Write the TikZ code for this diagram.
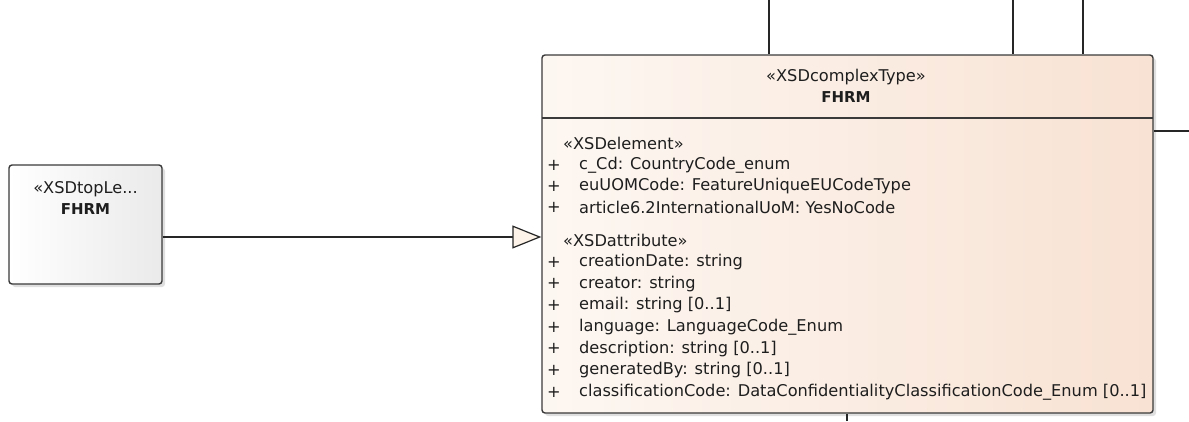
\documentclass[tikz,border=0pt]{standalone}
\usepackage{fontspec}
\setmainfont{DejaVu Sans}
\usetikzlibrary{arrows.meta,shadows,calc}
\definecolor{txt}{HTML}{1E1E1E}
\definecolor{boxline}{HTML}{3A3A3A}
\definecolor{peachL}{HTML}{FDF7F2}
\definecolor{peachR}{HTML}{F8E2D3}
\definecolor{grayR}{HTML}{EAEAEA}
\definecolor{cream}{HTML}{FDF3E8}
\tikzset{
  umlbox/.style={draw=boxline, line width=1.4pt, rounded corners=3pt, inner sep=0pt,
    drop shadow={opacity=0.25, shadow xshift=3pt, shadow yshift=-3pt}},
  rowtext/.style={anchor=west, inner sep=0pt, text=txt, font=\fontsize{16.2}{18}\selectfont},
  plustext/.style={anchor=center, inner sep=0pt, text=txt, font=\fontsize{16.2}{18}\selectfont},
  stereo/.style={anchor=center, inner sep=0pt, text=txt, font=\fontsize{16.2}{18}\selectfont},
  titletext/.style={anchor=center, inner sep=0pt, text=txt, font=\bfseries\fontsize{15}{18}\selectfont},
  conn/.style={draw=black!85, line width=1.2pt},
}
\begin{document}
\begin{tikzpicture}[x=1pt,y=-1pt]
\useasboundingbox (0,0) rectangle (1189,421);
% left box
\node[umlbox, minimum width=153pt, minimum height=119pt, shading=axis, left color=white, right color=grayR] (lbox) at (85.5,224.5) {};
\node[stereo] (lst) at (85.5,189) {«XSDtopLe...};
\node[titletext] (lname) at (85.5,209) {FHRM};
% main box
\node[umlbox, minimum width=611pt, minimum height=358pt, shading=axis, left color=peachL, right color=peachR] (mbox) at (847.5,234) {};
\coordinate (divL) at (542,118);
\coordinate (divR) at (1153,118);
\draw[draw=boxline, line width=1.4pt] (divL) -- (divR);
\node[stereo] (mst) at (846,77) {«XSDcomplexType»};
\node[titletext] (mname) at (846,97) {FHRM};
% XSDelement compartment
\node[rowtext] (elst) at (563,143) {«XSDelement»};
\foreach \y/\t [count=\i] in {165/{c\_Cd: CountryCode\_enum},186/{euUOMCode: FeatureUniqueEUCodeType},207/{article6.2InternationalUoM: YesNoCode}}{
  \node[plustext] (ep\i) at (554,\y) {+};
  \node[rowtext] (e\i) at (579,\y) {\t};
}
\node[rowtext] (atst) at (563,240) {«XSDattribute»};
\foreach \y/\t [count=\i] in {262/{creationDate: string},283.7/{creator: string},305.4/{email: string [0..1]},327.1/{language: LanguageCode\_Enum},348.8/{description: string [0..1]},370.5/{generatedBy: string [0..1]},392.2/{classificationCode: DataConfidentialityClassificationCode\_Enum [0..1]}}{
  \node[plustext] (ap\i) at (554,\y) {+};
  \node[rowtext] (a\i) at (579,\y) {\t};
}
% connectors
\draw[conn, -{Triangle[length=29pt, width=23pt, fill=cream, line width=1.2pt]}] (lbox.east |- 0,237) -- (mbox.west |- 0,237);
\coordinate (t1) at (769,0);
\coordinate (t2) at (1013,0);
\coordinate (t3) at (1083,0);
\draw[conn] (t1) -- (t1 |- mbox.north);
\draw[conn] (t2) -- (t2 |- mbox.north);
\draw[conn] (t3) -- (t3 |- mbox.north);
\coordinate (r1) at (1189,131);
\draw[conn] (r1) -- (r1 -| mbox.east);
\coordinate (b1) at (847,421);
\draw[conn] (b1) -- (b1 |- mbox.south);
\end{tikzpicture}
\end{document}
